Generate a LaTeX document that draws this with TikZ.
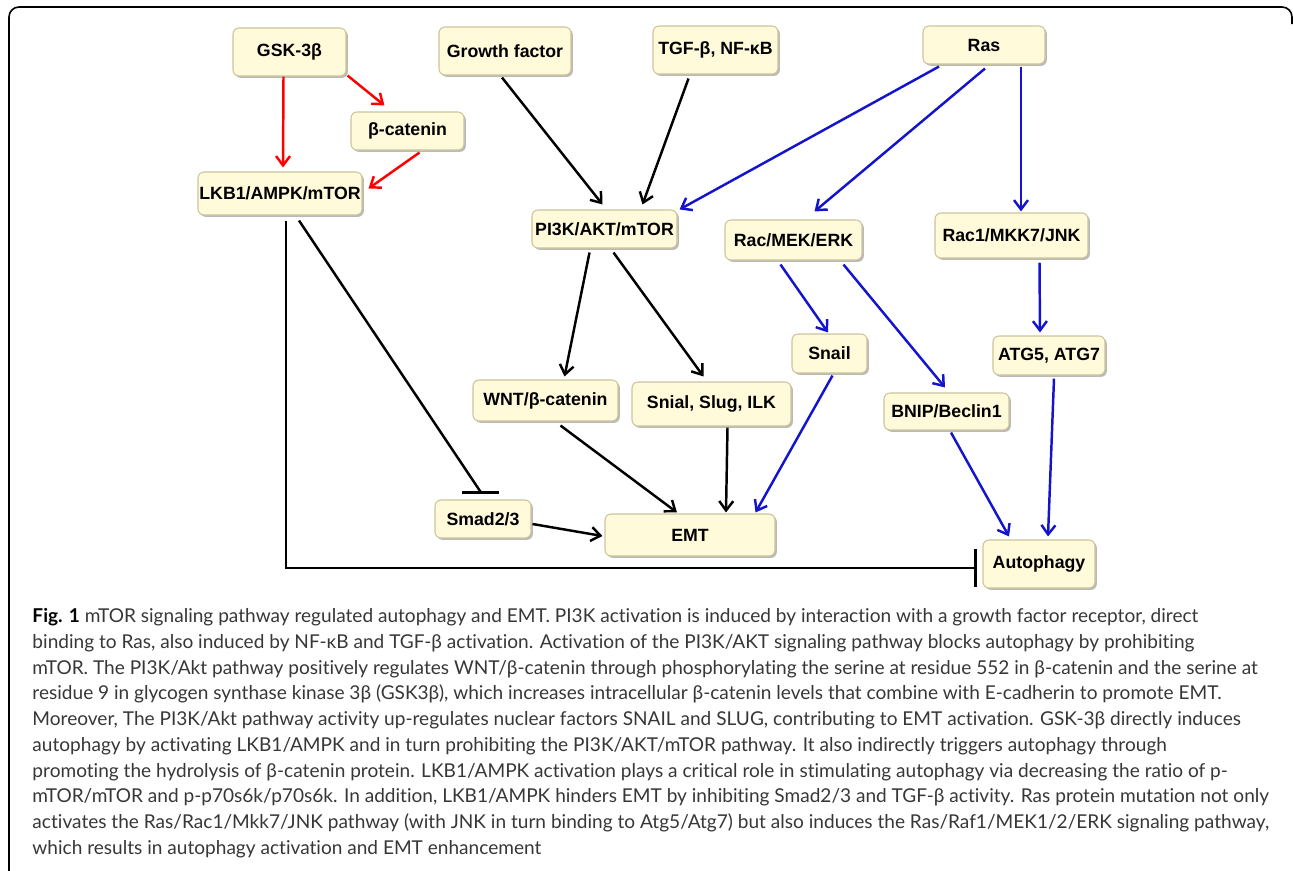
\documentclass[tikz,border=0pt]{standalone}
\usepackage{fontspec}
\setmainfont{Lato}[Ligatures=NoCommon]
\newfontfamily\boxfont{Liberation Sans}
\usetikzlibrary{arrows.meta,calc,shadows}

\tikzset{every picture/.style={line width=0.75pt}}
\definecolor{boxfill}{RGB}{255,250,218}
\definecolor{boxedge}{RGB}{205,195,155}
\definecolor{actred}{RGB}{255,0,0}
\definecolor{rasblue}{RGB}{20,20,205}
\definecolor{captext}{RGB}{55,55,55}
\tikzset{
  pbox/.style 2 args={draw=boxedge, fill=boxfill, rounded corners=4.5pt, line width=0.8pt, inner sep=0pt,
    minimum width=#1*0.75pt, minimum height=#2*0.75pt, font=\boxfont\bfseries\fontsize{13.3}{15}\selectfont,
    drop shadow={shadow xshift=1.4pt, shadow yshift=-1.4pt, fill=black!55, opacity=0.5}},
  act/.style={line width=1.85pt, -{Straight Barb[length=7pt,width=10.5pt,line width=1.85pt]}},
  inh/.style={line width=1.85pt, -{Bar[width=29pt,line width=2.4pt]}},
}

\begin{document}
\begin{tikzpicture}[x=0.75pt,y=0.75pt,yscale=-1,xscale=1]
		\useasboundingbox (0,0) rectangle (1293,871);
		
		%Frame
		\draw [line width=1.2pt, rounded corners=7.5pt] (9,871) -- (9,7) -- (1292,7) -- (1292,24) ;
		
		%Boxes: top row
		\draw (289.5,52) node [pbox={113}{48}] (gsk) {GSK-3β};
		\draw (505,51) node [pbox={132}{48}] (growth) {Growth factor};
		\draw (715.5,50) node [pbox={125}{48}] (tgf) {TGF-β, NF-κB};
		\draw (984,45) node [pbox={122}{38}] (ras) {Ras};
		%Boxes: second level
		\draw (407.5,131) node [pbox={113}{38}] (bcat) {β-catenin};
		\draw (280,193.5) node [pbox={164}{43}] (lkb) {LKB1/AMPK/mTOR};
		\draw (604.5,229) node [pbox={145}{38}] (pik) {PI3K/AKT/mTOR};
		\draw (793.5,240) node [pbox={137}{40}] (racmek) {Rac/MEK/ERK};
		\draw (1011.5,235.5) node [pbox={153}{45}] (racjnk) {Rac1/MKK7/JNK};
		%Boxes: third level
		\draw (829.5,353.5) node [pbox={75}{39}] (snail) {Snail};
		\draw (1049,355.5) node [pbox={112}{39}] (atg) {ATG5, ATG7};
		\draw (545.5,400.5) node [pbox={145}{41}] (wnt) {WNT/β-catenin};
		\draw (711.5,404) node [pbox={159}{44}] (snial) {Snial, Slug, ILK};
		\draw (946.5,411.5) node [pbox={125}{37}] (bnip) {BNIP/Beclin1};
		%Boxes: bottom
		\draw (483,519) node [pbox={96}{38}] (smad) {Smad2/3};
		\draw (690,535) node [pbox={170}{42}] (emt) {EMT};
		\draw (1039,564) node [pbox={112}{48}] (auto) {Autophagy};
		
		%GSK-3beta branch
		\draw [act, actred] ($(gsk.south)+(-6,0)$) -- ($(lkb.north)+(3,-4)$) ;
		\draw [act, actred] ($(gsk.south east)+(1,-1)$) -- ($(bcat.north west)+(34,-6)$) ;
		\draw [act, actred] ($(bcat.south)+(12,2)$) -- ($(lkb.east)+(6,-5)$) ;
		
		%PI3K branch
		\draw [act] ($(growth.south)+(-3,2)$) -- ($(pik.north)+(-2,-5)$) ;
		\draw [act] ($(tgf.south)+(-27,4)$) -- ($(pik.north)+(38,-5)$) ;
		\draw [act] ($(pik.south)+(-15,4)$) -- ($(wnt.north)+(19,-3)$) ;
		\draw [act] ($(pik.south)+(9,4)$) -- ($(snial.north)+(-8,-5)$) ;
		\draw [act] ($(wnt.south)+(15,4)$) -- ($(emt.north)+(-13,-1)$) ;
		\draw [act] ($(snial.south)+(16,1)$) -- ($(emt.north)+(36,-1)$) ;
		\draw [act] ($(smad.east)+(1,5)$) -- ($(emt.west)+(-2,1)$) ;
		
		%LKB1 inhibition
		\draw [line width=1.85pt] ($(lkb.south)+(19,5)$) -- ($(smad.north)+(-2,-7)$) ;
		\draw [line width=2.4pt] ($(smad.north)+(-21,-7)$) -- ($(smad.north)+(16,-7)$) ;
		\draw [inh] ($(lkb.south)+(6,5)$) |- ($(auto.west)+(-5,4)$) ;
		
		%Ras branch
		\draw [act, rasblue] ($(ras.south)+(-45,2)$) -- ($(pik.north east)+(2,0)$) ;
		\draw [act, rasblue] ($(ras.south)+(1,4)$) -- ($(racmek.north)+(21,-8)$) ;
		\draw [act, rasblue] ($(ras.south)+(37,2)$) -- ($(racjnk.north)+(9.5,-1)$) ;
		\draw [act, rasblue] ($(racmek.south)+(-13,4)$) -- ($(snail.north)+(-1.5,-1)$) ;
		\draw [act, rasblue] ($(racmek.south)+(50,4)$) -- ($(bnip.north)+(-1.5,-5)$) ;
		\draw [act, rasblue] ($(racjnk.south)+(28,4)$) -- ($(atg.north)+(-9,-3)$) ;
		\draw [act, rasblue] ($(snail.south)+(3,2)$) -- ($(emt.north east)+(-20,-1)$) ;
		\draw [act, rasblue] ($(bnip.south)+(4.5,2)$) -- ($(auto.north)+(-30,-3)$) ;
		\draw [act, rasblue] ($(atg.south)+(5,3)$) -- ($(auto.north)+(9,-3)$) ;
		
		%Caption
		\draw (32,608) node [anchor=north west, inner sep=0pt, align=left, text=captext, font=\fontsize{14.3}{19.3}\selectfont] (caption) {\textbf{\color{black}Fig. 1} mTOR signaling pathway regulated autophagy and EMT. PI3K activation is induced by interaction with a growth factor receptor, direct\\
		binding to Ras, also induced by NF-κB and TGF-β activation. Activation of the PI3K/AKT signaling pathway blocks autophagy by prohibiting\\
		mTOR. The PI3K/Akt pathway positively regulates WNT/β-catenin through phosphorylating the serine at residue 552 in β-catenin and the serine at\\
		residue 9 in glycogen synthase kinase 3β (GSK3β), which increases intracellular β-catenin levels that combine with E-cadherin to promote EMT.\\
		Moreover, The PI3K/Akt pathway activity up-regulates nuclear factors SNAIL and SLUG, contributing to EMT activation. GSK-3β directly induces\\
		autophagy by activating LKB1/AMPK and in turn prohibiting the PI3K/AKT/mTOR pathway. It also indirectly triggers autophagy through\\
		promoting the hydrolysis of β-catenin protein. LKB1/AMPK activation plays a critical role in stimulating autophagy via decreasing the ratio of p-\\
		mTOR/mTOR and p-p70s6k/p70s6k. In addition, LKB1/AMPK hinders EMT by inhibiting Smad2/3 and TGF-β activity. Ras protein mutation not only\\
		activates the Ras/Rac1/Mkk7/JNK pathway (with JNK in turn binding to Atg5/Atg7) but also induces the Ras/Raf1/MEK1/2/ERK signaling pathway,\\
		which results in autophagy activation and EMT enhancement};
		
\end{tikzpicture}
\end{document}
